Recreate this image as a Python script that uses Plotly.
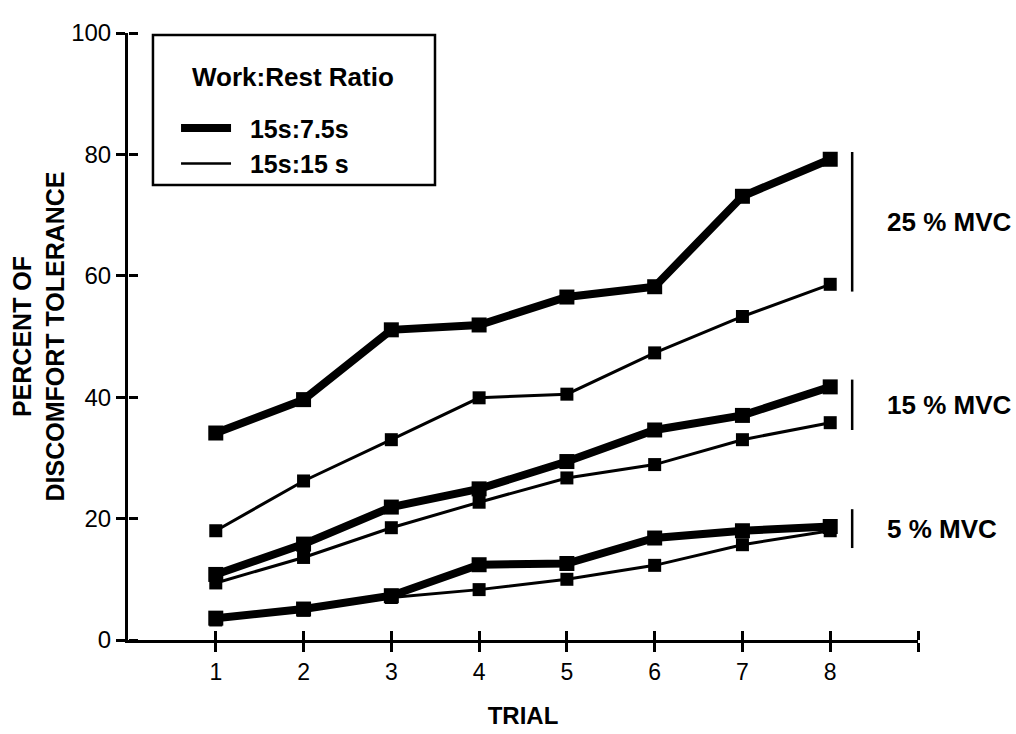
import plotly.graph_objects as go

trials = [1, 2, 3, 4, 5, 6, 7, 8]

# 15s:7.5s (thick) and 15s:15s (thin) work:rest ratios
mvc25_short_rest = [34.1, 39.6, 51.1, 51.9, 56.5, 58.2, 73.1, 79.2]
mvc25_long_rest = [18.0, 26.2, 33.0, 39.9, 40.5, 47.3, 53.3, 58.6]
mvc15_short_rest = [10.8, 15.8, 21.9, 24.9, 29.4, 34.6, 37.0, 41.7]
mvc15_long_rest = [9.4, 13.6, 18.5, 22.7, 26.7, 28.9, 33.0, 35.8]
mvc5_short_rest = [3.6, 5.1, 7.3, 12.4, 12.6, 16.8, 18.0, 18.7]
mvc5_long_rest = [3.3, 4.9, 7.0, 8.3, 10.0, 12.3, 15.7, 18.0]

group_labels = ["25 % MVC", "15 % MVC", "5 % MVC"]
legend_title = "Work:Rest Ratio"
legend_names = ["15s:7.5s", "15s:15 s"]
y_ticks = [0, 20, 40, 60, 80, 100]
x_ticks = [1, 2, 3, 4, 5, 6, 7, 8, 9]
x_ticktext = ["1", "2", "3", "4", "5", "6", "7", "8", ""]

FONT = "Liberation Sans, Arial, Helvetica, sans-serif"
BLACK = "#000000"

fig = go.Figure()

groups = [
    (mvc25_short_rest, mvc25_long_rest),
    (mvc15_short_rest, mvc15_long_rest),
    (mvc5_short_rest, mvc5_long_rest),
]

for short, long_ in groups:
    fig.add_trace(go.Scatter(
        x=trials, y=long_, mode="lines+markers",
        line=dict(color=BLACK, width=3),
        marker=dict(symbol="square", size=13, color=BLACK),
        showlegend=False, hoverinfo="skip"))
    fig.add_trace(go.Scatter(
        x=trials, y=short, mode="lines+markers",
        line=dict(color=BLACK, width=8),
        marker=dict(symbol="square", size=15, color=BLACK),
        showlegend=False, hoverinfo="skip"))

# legend entries (line samples only)
fig.add_trace(go.Scatter(x=[None], y=[None], mode="lines",
                         name="\u00a0\u00a0<b>%s</b>" % legend_names[0],
                         line=dict(color=BLACK, width=8)))
fig.add_trace(go.Scatter(x=[None], y=[None], mode="lines",
                         name="\u00a0\u00a0<b>%s</b>" % legend_names[1],
                         line=dict(color=BLACK, width=2.5)))

# empty trace on the companion axes so their inward-pointing ticks are drawn
fig.add_trace(go.Scatter(x=[None], y=[None], xaxis="x2", yaxis="y2",
                         showlegend=False, hoverinfo="skip"))

# group brackets and labels on the right
bracket_x = trials[-1] + 0.25
label_x = trials[-1] + 0.62
for (short, long_), label in zip(groups, group_labels):
    lo = min(short[-1], long_[-1])
    hi = max(short[-1], long_[-1])
    mid = (lo + hi) / 2
    half = max((hi - lo) / 2 + 1.2, 3.2)
    fig.add_shape(type="line", xref="x", yref="y",
                  x0=bracket_x, x1=bracket_x, y0=mid - half, y1=mid + half,
                  line=dict(color=BLACK, width=2.5))
    fig.add_annotation(x=label_x, y=mid, xref="x", yref="y", text="<b>%s</b>" % label,
                       showarrow=False, xanchor="left", yanchor="middle",
                       font=dict(family=FONT, size=26, color=BLACK))

# legend frame and title
fig.add_shape(type="rect", xref="paper", yref="paper",
              x0=0.0316, x1=0.3886, y0=0.7496, y1=0.9967,
              line=dict(color=BLACK, width=2.5), fillcolor="rgba(0,0,0,0)")
fig.add_annotation(x=0.2089, y=0.9275, xref="paper", yref="paper",
                   text="<b>%s</b>" % legend_title, showarrow=False,
                   xanchor="center", yanchor="middle",
                   font=dict(family=FONT, size=26, color=BLACK))

axis_common = dict(showgrid=False, zeroline=False, color=BLACK, linecolor=BLACK,
                   tickcolor=BLACK, tickwidth=2.5, ticklen=9, automargin=False)

fig.update_layout(
    width=1016, height=734,
    margin=dict(l=128, r=98, t=33, b=94),
    paper_bgcolor="white", plot_bgcolor="white",
    font=dict(family=FONT, color=BLACK),
    xaxis=dict(range=[0, 9], tickvals=x_ticks, ticktext=x_ticktext, ticks="outside",
               showline=True, linewidth=3,
               tickfont=dict(size=23),
               title=dict(text="<b>TRIAL</b>", font=dict(size=24), standoff=24),
               **axis_common),
    # companion x axis at the bottom edge with ticks pointing up into the plot
    xaxis2=dict(range=[0, 9], tickvals=x_ticks, ticks="outside", showticklabels=False,
                overlaying="x", anchor="free", position=0, side="top", showline=False,
                **axis_common),
    yaxis=dict(range=[0, 100], tickvals=y_ticks, ticks="outside",
               showline=True, linewidth=3,
               tickfont=dict(size=24),
               title=dict(text="<b>PERCENT OF<br>DISCOMFORT TOLERANCE</b>",
                          font=dict(size=25), standoff=0),
               **axis_common),
    # companion y axis at the left edge with ticks pointing right into the plot
    yaxis2=dict(range=[0, 100], tickvals=y_ticks, ticks="outside", showticklabels=False,
                overlaying="y", anchor="free", position=0, side="right", showline=False,
                **axis_common),
    legend=dict(
        x=0.0608, y=0.881, xanchor="left", yanchor="top",
        bgcolor="rgba(0,0,0,0)", borderwidth=0,
        font=dict(family=FONT, size=25, color=BLACK),
        itemwidth=50, tracegroupgap=0,
    ),
)

fig.write_html("out.html")
